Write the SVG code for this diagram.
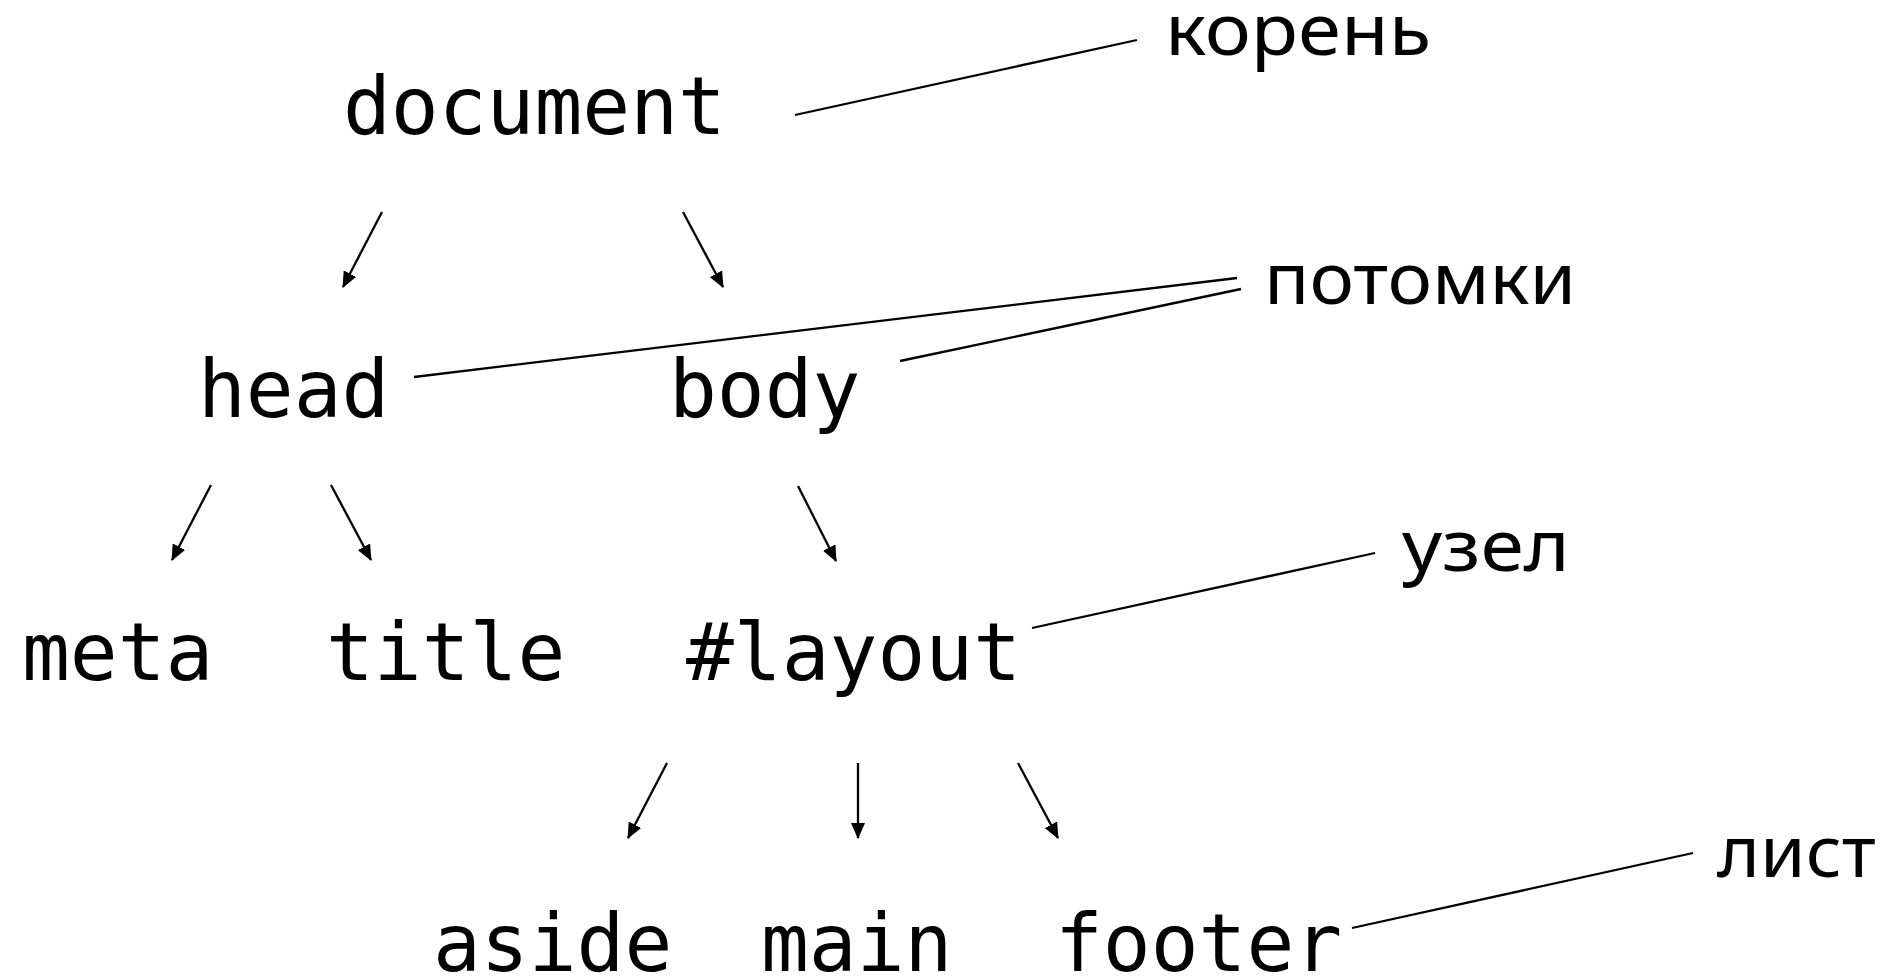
<svg xmlns="http://www.w3.org/2000/svg" width="1894" height="979" viewBox="0 0 1894 979">
  <style>
    .node { font-family: "DejaVu Sans Mono", "Liberation Mono", monospace; font-size: 79.5px; fill: #000; }
    .note { font-family: "Noto Sans", "Open Sans", sans-serif; font-size: 71px; fill: #000; }
    .edge { stroke: #000; stroke-width: 2.3; fill: none; marker-end: url(#arrow); }
    .lead { stroke: #000; stroke-width: 2.3; fill: none; }
  </style>
  <defs>
    <marker id="arrow" viewBox="0 0 16 14" refX="15" refY="7" markerWidth="16" markerHeight="14" markerUnits="userSpaceOnUse" orient="auto">
      <path d="M0,0 L16,7 L0,14 Z" fill="#000"/>
    </marker>
  </defs>
  <rect width="1894" height="979" fill="#fff"/>

  <!-- tree edges and callout leaders -->
  <g id="connectors">
    <line class="edge" x1="382" y1="212" x2="343" y2="287"/>
    <line class="edge" x1="683" y1="212" x2="723" y2="287"/>
    <line class="edge" x1="211" y1="485" x2="172" y2="560"/>
    <line class="edge" x1="331" y1="485" x2="371" y2="560"/>
    <line class="edge" x1="798" y1="486" x2="836" y2="561"/>
    <line class="edge" x1="667" y1="763" x2="628" y2="838"/>
    <line class="edge" x1="858" y1="763" x2="858" y2="838"/>
    <line class="edge" x1="1018" y1="763" x2="1058" y2="838"/>

    <line class="lead" x1="795" y1="115" x2="1137" y2="40"/>
    <line class="lead" x1="414" y1="377" x2="1237" y2="278"/>
    <line class="lead" x1="900" y1="361" x2="1241" y2="289"/>
    <line class="lead" x1="1032" y1="628" x2="1375" y2="553"/>
    <line class="lead" x1="1352" y1="928" x2="1693" y2="853"/>
  </g>

  <!-- DOM nodes -->
  <g id="document"><text class="node" x="343" y="134">document</text></g>
  <g id="head"><text class="node" x="198" y="417">head</text></g>
  <g id="body"><text class="node" x="669" y="417">body</text></g>
  <g id="meta"><text class="node" x="22" y="680">meta</text></g>
  <g id="title"><text class="node" x="326" y="680">title</text></g>
  <g id="layout"><text class="node" x="686" y="680">#layout</text></g>
  <g id="aside"><text class="node" x="433" y="971">aside</text></g>
  <g id="main"><text class="node" x="761" y="971">main</text></g>
  <g id="footer"><text class="node" x="1055" y="971">footer</text></g>

  <!-- callout labels -->
  <g id="label-root"><text class="note" x="1165" y="55" textLength="266" lengthAdjust="spacingAndGlyphs">корень</text></g>
  <g id="label-children"><text class="note" x="1264" y="304" textLength="312" lengthAdjust="spacingAndGlyphs">потомки</text></g>
  <g id="label-node"><text class="note" x="1402" y="571" textLength="168" lengthAdjust="spacingAndGlyphs">узел</text></g>
  <g id="label-leaf"><text class="note" x="1717" y="877" textLength="159" lengthAdjust="spacingAndGlyphs">лист</text></g>
</svg>
